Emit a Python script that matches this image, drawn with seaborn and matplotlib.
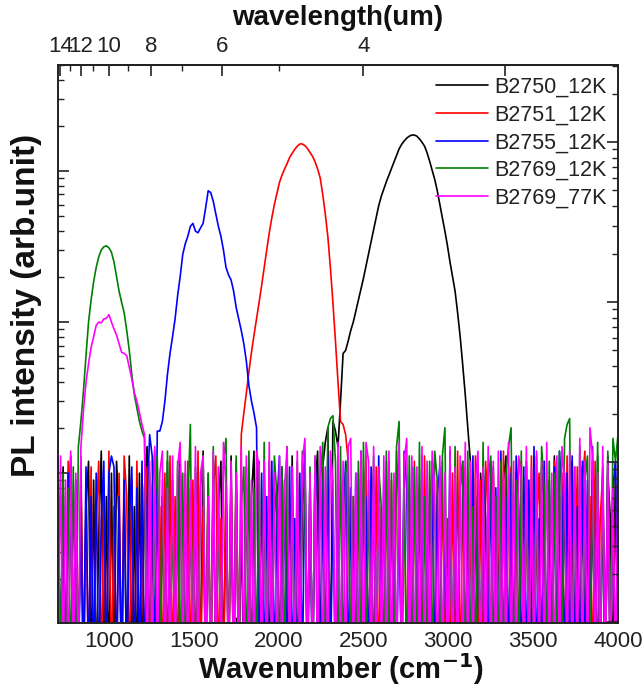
import numpy as np
import pandas as pd
import matplotlib
matplotlib.use("Agg")
import matplotlib.pyplot as plt
import seaborn as sns
from matplotlib.ticker import FixedLocator, LogLocator, MultipleLocator, NullFormatter

# Spectrometer sampling grid (cm^-1)
wavenumber = np.arange(700, 4001, 15)

# PL spectra (arb. units); values below the lower axis limit are noise dips
b2750_12k = [
    .07, .004, .11, .004, .05, .13, .004, .08, .004, .1,
    .004, .06, .12, .004, .09, .004, .04, .14, .004, .07,
    .004, .1, .004, .12, .05, .004, .09, .004, .13, .004,
    .06, .004, .1, .004, .08, .15, .004, .05, .004, .11,
    .004, .07, .004, .12, .004, .09, .004, .06, .13, .004,
    .1, .004, .08, .004, .05, .11, .004, .14, .004, .07,
    .004, .1, .004, .06, .12, .004, .08, .004, .13, .004,
    .09, .004, .05, .004, .11, .004, .07, .14, .004, .06,
    .004, .1, .004, .12, .004, .08, .05, .004, .11, .004,
    .07, .004, .13, .004, .09, .004, .06, .12, .004, .1,
    .004, .08, .14, .004, .11, .16, .2, .004, .22, .19,
    .15, .3, .62, .65, .75, .88, 1.0, 1.18, 1.4, 1.65,
    1.95, 2.35, 2.85, 3.4, 4.1, 4.9, 5.9, 6.8, 7.6, 8.5,
    9.4, 10.4, 11.5, 12.7, 14.0, 15.0, 15.8, 16.5, 17.0, 17.3,
    17.3, 17.0, 16.3, 15.5, 14.6, 13.2, 11.6, 10.1, 8.8, 7.4,
    6.0, 4.9, 4.0, 3.2, 2.5, 2.0, 1.6, 1.15, .8, .52,
    .33, .2, .12, .004, .07, .004, .1, .05, .004, .08,
    .004, .11, .004, .06, .004, .09, .13, .004, .05, .004,
    .1, .004, .07, .004, .12, .004, .03, .004, .08, .004,
    .11, .06, .004, .09, .004, .13, .004, .07, .004, .1,
    .004, .05, .12, .004, .08, .004, .11, .004, .06, .004,
    .09, .004, .13, .004, .07, .004, .1, .05, .004, .12,
    .004,
]
b2751_12k = [
    .1, .004, .06, .004, .12, .04, .004, .09, .004, .13,
    .004, .07, .004, .11, .004, .05, .12, .004, .08, .004,
    .14, .004, .06, .004, .1, .004, .13, .07, .004, .09,
    .004, .12, .004, .05, .004, .11, .004, .08, .14, .004,
    .06, .004, .1, .004, .13, .004, .07, .004, .11, .05,
    .004, .12, .004, .09, .004, .14, .004, .06, .004, .1,
    .004, .08, .13, .004, .05, .004, .11, .004, .09, .004,
    .12, .004, .18, .25, .34, .47, .63, .82, 1.05, 1.35,
    1.75, 2.3, 3.0, 3.9, 4.9, 6.0, 7.1, 8.4, 9.4, 10.3,
    11.2, 12.3, 13.1, 13.9, 14.6, 15.1, 15.1, 14.7, 14.1, 13.3,
    12.5, 11.5, 10.3, 9.0, 7.0, 5.2, 3.7, 2.3, 1.35, .75,
    .4, .22, .21, .18, .12, .004, .07, .004, .1, .004,
    .05, .13, .004, .08, .004, .11, .004, .06, .004, .12,
    .004, .09, .004, .14, .05, .004, .1, .004, .07, .004,
    .12, .004, .08, .004, .13, .004, .06, .11, .004, .09,
    .004, .12, .004, .05, .004, .1, .004, .14, .004, .07,
    .11, .004, .06, .004, .13, .004, .09, .004, .12, .05,
    .004, .1, .004, .08, .004, .14, .004, .07, .11, .004,
    .06, .004, .12, .004, .09, .004, .13, .004, .05, .1,
    .004, .11, .004, .07, .004, .12, .08, .004, .1, .004,
    .13, .004, .06, .004, .11, .004, .09, .14, .004, .07,
    .004, .12, .004, .05, .1, .004, .13, .004, .08, .004,
    .11,
]
b2755_12k = [
    .12, .004, .08, .004, .1, .05, .004, .09, .004, .06,
    .004, .11, .004, .07, .004, .1, .004, .05, .12, .004,
    .1, .13, .11, .004, .07, .004, .09, .004, .05, .11,
    .004, .08, .004, .12, .004, .06, .18, .13, .004, .19,
    .19, .22, .3, .45, .62, .8, 1.05, 1.5, 2.0, 2.8,
    3.3, 3.7, 4.3, 4.5, 4.0, 3.9, 4.2, 4.5, 5.7, 7.4,
    7.2, 6.3, 5.2, 4.3, 3.7, 3.0, 2.3, 2.05, 1.9, 1.6,
    1.25, 1.05, .88, .72, .55, .38, .3, .25, .2, .004,
    .1, .004, .07, .004, .12, .004, .06, .13, .004, .09,
    .004, .11, .004, .05, .004, .1, .004, .14, .004, .08,
    .004, .12, .06, .004, .09, .004, .13, .004, .07, .004,
    .11, .004, .05, .12, .004, .08, .004, .1, .004, .14,
    .004, .07, .004, .11, .06, .004, .13, .004, .09, .004,
    .12, .004, .05, .004, .1, .004, .14, .08, .004, .11,
    .004, .06, .004, .13, .004, .09, .004, .12, .004, .07,
    .11, .004, .05, .004, .14, .004, .1, .004, .08, .12,
    .004, .06, .004, .13, .004, .09, .004, .11, .05, .004,
    .12, .004, .08, .004, .14, .004, .07, .004, .1, .004,
    .13, .06, .004, .11, .004, .09, .004, .15, .004, .05,
    .004, .12, .004, .08, .004, .11, .004, .14, .07, .004,
    .1, .004, .13, .004, .06, .004, .12, .004, .09, .004,
    .15, .004, .07, .004, .11, .004, .13, .004, .08, .12,
    .004,
]
b2769_12k = [
    .13, .004, .1, .004, .08, .004, .11, .004, .15, .22,
    .35, .6, 1.0, 1.4, 1.85, 2.3, 2.7, 3.0, 3.15, 3.2,
    3.1, 2.9, 2.5, 2.0, 1.6, 1.35, 1.15, .88, .65, .45,
    .33, .27, .22, .19, .17, .004, .1, .004, .06, .13,
    .004, .09, .004, .14, .004, .07, .004, .12, .004, .1,
    .004, .06, .21, .004, .11, .004, .08, .13, .004, .1,
    .004, .15, .004, .07, .004, .12, .17, .004, .09, .004,
    .13, .004, .06, .11, .004, .14, .004, .08, .004, .12,
    .004, .16, .004, .1, .004, .13, .07, .004, .11, .004,
    .15, .004, .09, .004, .12, .004, .14, .06, .004, .11,
    .004, .13, .004, .08, .16, .004, .2, .23, .24, .12,
    .004, .15, .004, .1, .13, .004, .07, .004, .12, .004,
    .16, .004, .09, .004, .13, .004, .11, .06, .004, .14,
    .004, .1, .004, .15, .22, .004, .08, .004, .13, .004,
    .11, .004, .16, .004, .07, .004, .12, .004, .14, .09,
    .004, .13, .2, .004, .1, .004, .15, .004, .08, .12,
    .004, .14, .004, .06, .004, .11, .004, .16, .004, .09,
    .13, .004, .07, .004, .12, .004, .1, .15, .2, .004,
    .09, .004, .14, .004, .11, .004, .06, .004, .13, .004,
    .15, .08, .004, .12, .004, .1, .004, .14, .004, .17,
    .21, .23, .004, .11, .004, .15, .004, .09, .13, .004,
    .12, .004, .16, .004, .1, .004, .14, .004, .17, .12,
    .18,
]
b2769_77k = [
    .004, .13, .004, .09, .004, .14, .004, .1, .004, .15,
    .26, .4, .53, .68, .8, .95, 1.0, .99, 1.05, 1.06,
    1.12, 1.0, .9, .82, .72, .63, .62, .6, .5, .42,
    .34, .3, .25, .21, .18, .004, .12, .004, .15, .004,
    .1, .14, .004, .08, .004, .13, .004, .11, .16, .004,
    .12, .004, .09, .004, .15, .004, .1, .13, .004, .07,
    .004, .14, .004, .11, .004, .16, .08, .004, .12, .004,
    .1, .004, .15, .004, .13, .004, .09, .004, .14, .11,
    .004, .12, .004, .16, .004, .1, .004, .13, .004, .08,
    .15, .004, .11, .004, .14, .004, .12, .17, .004, .1,
    .004, .13, .004, .15, .004, .11, .004, .14, .09, .004,
    .16, .004, .12, .004, .15, .17, .004, .1, .004, .14,
    .004, .16, .12, .004, .15, .004, .11, .004, .13, .004,
    .14, .004, .1, .004, .16, .004, .12, .17, .004, .13,
    .004, .11, .004, .15, .004, .12, .004, .14, .08, .004,
    .13, .004, .1, .004, .15, .004, .11, .004, .13, .004,
    .16, .004, .12, .004, .09, .14, .004, .11, .004, .15,
    .004, .12, .004, .14, .004, .1, .004, .16, .004, .12,
    .004, .13, .09, .004, .15, .004, .11, .004, .14, .004,
    .12, .004, .16, .004, .1, .004, .13, .004, .15, .09,
    .004, .14, .004, .11, .004, .17, .004, .12, .004, .2,
    .13, .004, .1, .004, .15, .004, .12, .004, .08, .004,
    .11,
]

samples = ["B2750_12K", "B2751_12K", "B2755_12K", "B2769_12K", "B2769_77K"]
series = [b2750_12k, b2751_12k, b2755_12k, b2769_12k, b2769_77k]
colors = ["#000000", "#FF0000", "#0000FF", "#008000", "#FF00FF"]

# Wavelength (um) ticks for the top axis
wl_major = [14, 12, 10, 8, 6, 4, 3]
wl_labels = ["14", "12", "10", "8", "6", "4", ""]
wl_minor = [13, 11, 9, 7, 5]

for name, vals in zip(samples, series):
    assert len(vals) == len(wavenumber), (name, len(vals), len(wavenumber))

df = pd.concat(
    [pd.DataFrame({"wavenumber": wavenumber, "intensity": vals, "sample": name})
     for name, vals in zip(samples, series)],
    ignore_index=True,
)

sns.set_style("ticks")
plt.rcParams["font.family"] = ["Liberation Sans", "DejaVu Sans"]

W, H = 642, 688
fig = plt.figure(figsize=(W / 100, H / 100), dpi=100)
ax = fig.add_axes([58 / W, 1 - 623 / H, 560 / W, 558 / H])

sns.lineplot(data=df, x="wavenumber", y="intensity", hue="sample",
             hue_order=samples, palette=colors, estimator=None, sort=False,
             linewidth=1.2, legend=False, ax=ax)

ax.set_yscale("log")
ax.set_xlim(700, 4000)
ax.set_ylim(0.0102, 50.3)
ax.set_xlabel("")
ax.set_ylabel("")
ax.xaxis.set_major_locator(MultipleLocator(500))
ax.xaxis.set_minor_locator(MultipleLocator(250))
ax.yaxis.set_major_locator(LogLocator(base=10))
ax.yaxis.set_minor_locator(LogLocator(base=10, subs=np.arange(2, 10)))
ax.yaxis.set_major_formatter(NullFormatter())
ax.yaxis.set_minor_formatter(NullFormatter())
ax.tick_params(axis="both", which="major", direction="in", length=8, width=1.2,
               labelsize=16, pad=6, colors="#222222", labelcolor="#222222")
ax.tick_params(axis="both", which="minor", direction="in", length=4, width=1.0,
               colors="#222222")
ax.tick_params(axis="x", top=False)
for sp in ax.spines.values():
    sp.set_visible(True)
    sp.set_linewidth(1.4)
    sp.set_color("#222222")

# Right-hand log axis
ax_r = ax.twinx()
ax_r.set_yscale("log")
ax_r.set_ylim(0.00986, 30.3)
ax_r.yaxis.set_major_locator(LogLocator(base=10))
ax_r.yaxis.set_minor_locator(LogLocator(base=10, subs=np.arange(2, 10)))
ax_r.yaxis.set_major_formatter(NullFormatter())
ax_r.yaxis.set_minor_formatter(NullFormatter())
ax_r.tick_params(axis="y", which="major", direction="in", length=8, width=1.2, colors="#222222")
ax_r.tick_params(axis="y", which="minor", direction="in", length=4, width=1.0, colors="#222222")
for sp in ax_r.spines.values():
    sp.set_visible(False)


def to_wavelength(v):
    v = np.asarray(v, dtype=float)
    with np.errstate(divide="ignore"):
        return 1e4 / v


sec = ax.secondary_xaxis("top", functions=(to_wavelength, to_wavelength))
sec.set_xticks(wl_major)
sec.set_xticklabels(wl_labels)
sec.xaxis.set_minor_locator(FixedLocator(wl_minor))
sec.tick_params(axis="x", which="major", direction="in", length=8, width=1.2,
                labelsize=16, pad=6, colors="#222222", labelcolor="#222222")
sec.tick_params(axis="x", which="minor", direction="in", length=4, width=1.0,
                colors="#222222")
sec.spines["top"].set_linewidth(1.4)

fig.text(338 / W, 1 - 18 / H, "wavelength(um)", ha="center", va="center",
         fontsize=20, fontweight="bold", color="#111111")
fig.text(341 / W, 1 - 669 / H, "Wavenumber (cm$^{\\mathbf{-1}}$)", ha="center",
         va="center", fontsize=21, fontweight="bold", color="#111111")
fig.text(27 / W, 1 - 305 / H, "PL intensity (arb.unit)", ha="center", va="center",
         rotation=90, fontsize=24, fontweight="bold", color="#111111")

leg = ax.legend(handles=ax.get_lines()[:len(samples)], labels=samples,
                loc="upper left", bbox_to_anchor=(436 / W, 1 - 77 / H),
                bbox_transform=fig.transFigure, frameon=False, fontsize=15.5,
                handlelength=2.4, handletextpad=0.3, labelspacing=0.31,
                borderpad=0, borderaxespad=0)
for t in leg.get_texts():
    t.set_color("#222222")

fig.savefig("out.png", dpi=100)
